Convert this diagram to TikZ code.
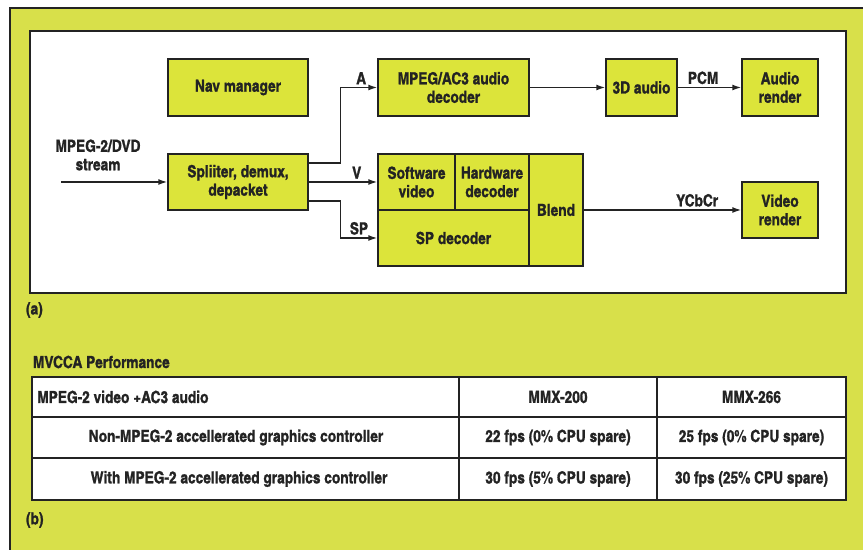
\documentclass[tikz,border=0pt]{standalone}
\usepackage{fontspec}
\setmainfont{texgyreheroscn}[Extension=.otf,UprightFont=*-bold,BoldFont=*-bold,
  UprightFeatures={FakeBold=1.2}]
\usetikzlibrary{arrows.meta,positioning}
\definecolor{panelyellow}{RGB}{216,224,74}
\definecolor{boxyellow}{RGB}{220,228,58}
\definecolor{inkdark}{RGB}{35,35,35}

\begin{document}
\begin{tikzpicture}[x=0.02cm,y=-0.02cm,>={Latex[length=1.8mm,width=1.2mm]},
    font=\fontsize{9.5}{10.5}\selectfont,
    block/.style={draw=inkdark,line width=0.8pt,fill=boxyellow,align=center,
      inner sep=1pt,text=inkdark},
    conn/.style={->,draw=inkdark,line width=0.8pt},
    lbl/.style={text=inkdark,inner sep=1.5pt},
    cell/.style={text=inkdark,inner sep=0pt}]
  % panel and frame
  \useasboundingbox (0,0) rectangle (863,550);
  \fill[white] (0,0) rectangle (863,550);
  \fill[panelyellow] (10,8) rectangle (863,550);
  \draw[inkdark,line width=0.8pt] (10,550) -- (10,8) -- (863,8);
  \draw[inkdark,line width=0.8pt,fill=white] (30,31) rectangle (846,293);

  % (a) block diagram
  \node[block,minimum width=140*0.02cm,minimum height=57*0.02cm] (nav) at (238,87.5) {Nav manager};
  \node[block,minimum width=140*0.02cm,minimum height=56*0.02cm] (split) at (238,182) {Spliiter, demux,\\depacket};
  \node[block,minimum width=151*0.02cm,minimum height=57*0.02cm] (audiodec) at (453.5,87.5) {MPEG/AC3 audio\\decoder};
  \node[block,minimum width=71*0.02cm,minimum height=57*0.02cm] (audio3d) at (641.5,87.5) {3D audio};
  \node[block,minimum width=76*0.02cm,minimum height=57*0.02cm] (arender) at (780,87.5) {Audio\\render};
  \node[block,minimum width=77*0.02cm,minimum height=56*0.02cm] (swvideo) at (416.5,182) {Software\\video};
  \node[block,minimum width=74*0.02cm,minimum height=56*0.02cm] (hwdec) at (492,182) {Hardware\\decoder};
  \node[block,minimum width=151*0.02cm,minimum height=56*0.02cm] (spdec) at (453.5,238) {SP decoder};
  \node[block,minimum width=54*0.02cm,minimum height=112*0.02cm] (blend) at (556,210) {Blend};
  \node[block,minimum width=76*0.02cm,minimum height=56*0.02cm] (vrender) at (780,210) {Video\\render};

  \node[lbl,align=center] (streamlbl) at (98,155) {MPEG-2/DVD\\stream};
  \coordinate (streamin) at (61,182);
  \draw[conn] (streamin) -- (split.west);
  \draw[conn] ([yshift=0.38cm]split.east) -- ++(32,0) |- node[lbl,pos=0.78,above] {A} (audiodec.west);
  \draw[conn] (split.east) -- node[lbl,pos=0.7,above] {V} (swvideo.west);
  \draw[conn] ([yshift=-0.38cm]split.east) -- ++(32,0) |- node[lbl,pos=0.75,above] {SP} (spdec.west);
  \draw[conn] (audiodec.east) -- (audio3d.west);
  \draw[conn] (audio3d.east) -- node[lbl,pos=0.4,above] {PCM} (arender.west);
  \draw[conn] (blend.east |- vrender.west) -- node[lbl,pos=0.72,above] {YCbCr} (vrender.west);

  \node[lbl,anchor=west] (capa) at (23,310) {(a)};

  % (b) performance table
  \node[lbl,anchor=west] (tabtitle) at (30,362) {MVCCA Performance};
  \draw[inkdark,line width=0.8pt,fill=white] (32,377) rectangle (846,500);
  \draw[inkdark,line width=0.8pt] (32,417) -- (846,417) (32,458) -- (846,458)
    (459,377) -- (459,500) (657,377) -- (657,500);
  \node[cell,anchor=west] (hdr) at (37,397) {MPEG-2 video +AC3 audio};
  \node[cell] (mmxa) at (558,397) {MMX-200};
  \node[cell] (mmxb) at (751.5,397) {MMX-266};
  \node[cell] (rowone) at (236,437.5) {Non-MPEG-2 accellerated graphics controller};
  \node[cell] (onea) at (558,437.5) {22 fps (0\% CPU spare)};
  \node[cell] (oneb) at (751.5,437.5) {25 fps (0\% CPU spare)};
  \node[cell] (rowtwo) at (239,479) {With MPEG-2 accellerated graphics controller};
  \node[cell] (twoa) at (558,479) {30 fps (5\% CPU spare)};
  \node[cell] (twob) at (751.5,479) {30 fps (25\% CPU spare)};

  \node[lbl,anchor=west] (capb) at (23,520) {(b)};
\end{tikzpicture}
\end{document}
